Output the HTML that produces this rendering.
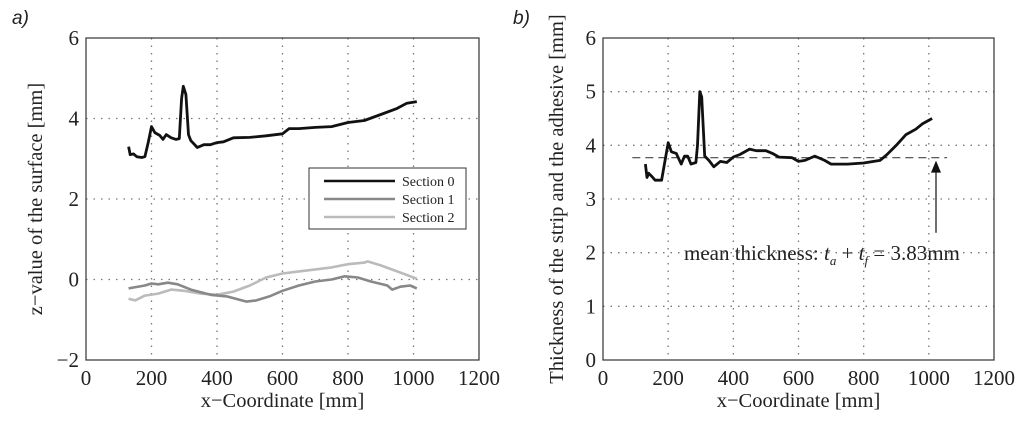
<!DOCTYPE html>
<html><head><meta charset="utf-8"><style>
body{margin:0;background:#fff}
svg{display:block;font-family:"Liberation Serif",serif}
.tk{font-size:21px;fill:#222}
.ttl{font-size:20.5px;fill:#222}
</style></head><body>
<svg id="chart" width="1024" height="425" viewBox="0 0 1024 425" xmlns="http://www.w3.org/2000/svg"></svg>
<script>
const xTicks=[0,200,400,600,800,1000,1200];
const yTicksA=[-2,0,2,4,6];
const yTicksB=[0,1,2,3,4,5,6];
const s0x=[130,135,145,155,170,180,190,200,210,225,235,245,260,275,285,292,297,305,313,320,340,360,380,400,420,450,500,550,600,620,650,700,750,800,850,900,950,980,1010];
const s0y=[3.3,3.1,3.12,3.05,3.03,3.05,3.4,3.8,3.65,3.58,3.48,3.6,3.52,3.48,3.5,4.5,4.8,4.6,3.6,3.45,3.28,3.35,3.35,3.4,3.42,3.52,3.53,3.57,3.62,3.75,3.75,3.78,3.8,3.9,3.95,4.1,4.25,4.38,4.42];
const s1x=[130,180,200,220,250,280,320,380,430,490,520,560,600,650,700,750,790,830,870,920,935,960,990,1010];
const s1y=[-0.22,-0.15,-0.1,-0.12,-0.08,-0.12,-0.25,-0.38,-0.42,-0.55,-0.52,-0.42,-0.28,-0.15,-0.05,0,0.08,0.05,-0.05,-0.15,-0.25,-0.18,-0.15,-0.22];
const s2x=[130,150,180,220,260,300,350,400,450,500,550,600,650,700,750,800,850,860,900,950,1010];
const s2y=[-0.48,-0.52,-0.4,-0.35,-0.25,-0.28,-0.35,-0.38,-0.3,-0.15,0.05,0.15,0.2,0.25,0.3,0.38,0.42,0.45,0.35,0.2,0.02];
const tx=[130,135,140,150,160,180,190,200,210,225,240,250,260,270,285,290,297,303,312,325,340,360,380,400,420,450,470,500,520,540,580,600,620,650,680,700,750,800,850,870,900,930,960,980,1010];
const ty=[3.65,3.4,3.48,3.42,3.35,3.35,3.7,4.05,3.88,3.85,3.65,3.8,3.8,3.65,3.68,4.0,5.0,4.9,3.8,3.72,3.6,3.7,3.68,3.78,3.83,3.93,3.9,3.9,3.85,3.78,3.77,3.7,3.72,3.8,3.72,3.65,3.65,3.67,3.72,3.82,4.0,4.2,4.3,4.4,4.5];
const meanVal=3.77;
const NS="http://www.w3.org/2000/svg";
const svg=document.getElementById('chart');
function mk(tag,attrs,parent){const e=document.createElementNS(NS,tag);for(const k in attrs)e.setAttribute(k,attrs[k]);(parent||svg).appendChild(e);return e;}
function axes(L,R,T,B,ymin,ymax){return {sx:v=>L+(v-0)/1200*(R-L),sy:v=>B-(v-ymin)/(ymax-ymin)*(B-T),L,R,T,B};}
function drawAxes(a,yt,name,ytitle,ytx){
 const g=mk('g',{});
 
 
 xTicks.forEach(v=>{const x=a.sx(v);
  if(v>0&&v<1200){const l=mk('line',{x1:x,x2:x,y1:a.T,y2:a.B,stroke:'#777','stroke-dasharray':'1.5 6','stroke-width':1.3},g);}
  const t=mk('text',{x:x,y:a.B+25,'text-anchor':'middle',class:'tk'},g);t.textContent=v;
  });
 yt.forEach(v=>{const y=a.sy(v);
  if(v!==yt[0]&&v!==yt[yt.length-1]){const l=mk('line',{x1:a.L,x2:a.R,y1:y,y2:y,stroke:'#777','stroke-dasharray':'1.5 6','stroke-width':1.3},g);}
  const t=mk('text',{x:a.L-7,y:y+7,'text-anchor':'end',class:'tk'},g);t.textContent=(v<0?'\u2212'+(-v):v);
  });
 const r=mk('rect',{x:a.L,y:a.T,width:a.R-a.L,height:a.B-a.T,fill:'none',stroke:'#333','stroke-width':1.2},g);
 
 const xt=mk('text',{x:(a.L+a.R)/2,y:a.B+47,'text-anchor':'middle',class:'ttl'},g);xt.textContent='x\u2212Coordinate [mm]';
 
 const yy=mk('text',{x:0,y:0,'text-anchor':'middle',class:'ttl',transform:`translate(${ytx},${(a.T+a.B)/2}) rotate(-90)`},g);yy.textContent=ytitle;
 
}
function line(a,xs,ys,col,w,name){const d=xs.map((x,i)=>(i?'L':'M')+a.sx(x).toFixed(1)+' '+a.sy(ys[i]).toFixed(1)).join(' ');
 const p=mk('path',{d:d,fill:'none',stroke:col,'stroke-width':w,'stroke-linejoin':'round'});
 }
const A=axes(86,479,38,360,-2,6);
drawAxes(A,yTicksA,'panel-a-axes','z\u2212value of the surface [mm]',42);
line(A,s2x,s2y,'#bbb',2.6,'section-2-line');
line(A,s1x,s1y,'#888',2.6,'section-1-line');
line(A,s0x,s0y,'#111',2.8,'section-0-line');
const lg=mk('g',{});
mk('rect',{x:309,y:168,width:157,height:61,fill:'#fff',stroke:'#333','stroke-width':1},lg);
[['Section 0','#111'],['Section 1','#888'],['Section 2','#bbb']].forEach((e,i)=>{const y=181+i*18;
 const l=mk('line',{x1:324,x2:395,y1:y,y2:y,stroke:e[1],'stroke-width':2.6},lg);
 const t=mk('text',{x:402,y:y+5,'font-size':14,fill:'#222'},lg);t.textContent=e[0];});
const B=axes(603,994,38,360,0,6);
drawAxes(B,yTicksB,'panel-b-axes','Thickness of the strip and the adhesive [mm]',563);
const ml=mk('line',{x1:B.sx(90),x2:B.sx(1056),y1:B.sy(meanVal),y2:B.sy(meanVal),stroke:'#444','stroke-width':1.2,'stroke-dasharray':'8 5'});

line(B,tx,ty,'#111',2.8,'thickness-line');
const ax=B.sx(1022);
const ar=mk('line',{x1:ax,x2:ax,y1:B.sy(2.37),y2:B.sy(meanVal)+14,stroke:'#222','stroke-width':1.3});

const ah=mk('polygon',{points:`${ax-5},${B.sy(meanVal)+15} ${ax+5},${B.sy(meanVal)+15} ${ax},${B.sy(meanVal)+3}`,fill:'#111'});

const an=mk('text',{x:684,y:260,'font-size':21,fill:'#222'});
an.innerHTML='mean thickness: <tspan font-style="italic">t</tspan><tspan font-style="italic" font-size="13" dy="5">a</tspan><tspan dy="-5"> + </tspan><tspan font-style="italic">t</tspan><tspan font-style="italic" font-size="13" dy="5">f</tspan><tspan dy="-5"> = 3.83mm</tspan>';

[['a)',12],['b)',513]].forEach(p=>{const t=mk('text',{x:p[1],y:24,'font-size':19,'font-style':'italic','font-family':'"Liberation Sans",sans-serif',fill:'#222'});t.textContent=p[0];
 });
</script>
</body></html>
